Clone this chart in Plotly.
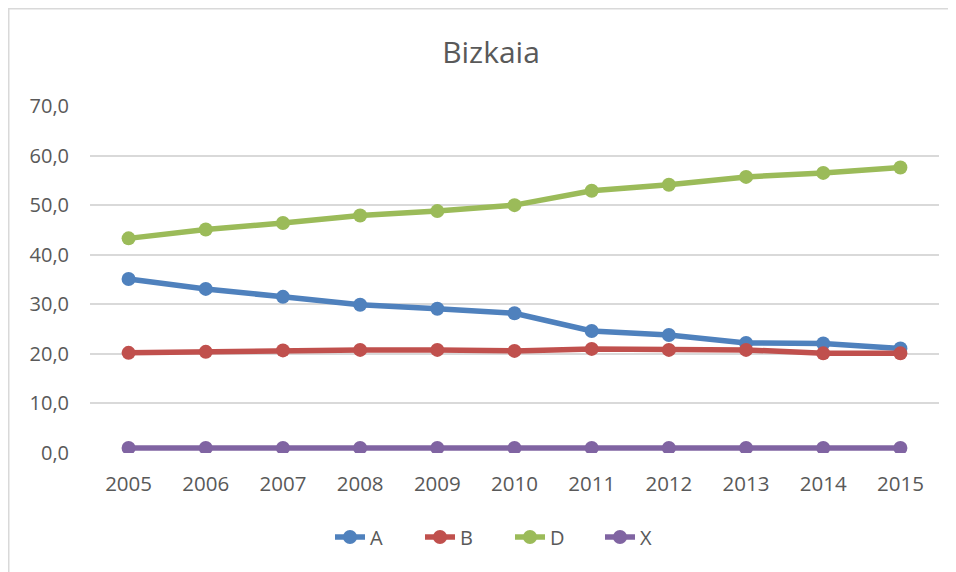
import plotly.graph_objects as go

years = ["2005", "2006", "2007", "2008", "2009", "2010", "2011", "2012", "2013", "2014", "2015"]
series_a = [35.1, 33.1, 31.5, 29.9, 29.1, 28.2, 24.6, 23.8, 22.2, 22.1, 21.1]
series_b = [20.2, 20.4, 20.7, 20.8, 20.8, 20.6, 21.0, 20.8, 20.8, 20.1, 20.1]
series_d = [43.3, 45.1, 46.4, 47.9, 48.8, 50.0, 52.9, 54.1, 55.7, 56.5, 57.6]
series_x = [1.0, 1.0, 1.0, 1.0, 1.0, 1.0, 1.0, 1.0, 1.0, 1.0, 1.0]
names = ["A", "B", "D", "X"]
colors = ["#4F81BD", "#C0504D", "#9BBB59", "#8064A2"]
y_ticks = [0, 10, 20, 30, 40, 50, 60, 70]

FONT = "Open Sans"
TXT = "#595959"

fig = go.Figure()
for name, vals, col in zip(names, [series_a, series_b, series_d, series_x], colors):
    fig.add_trace(go.Scatter(
        x=years, y=vals, name=name, mode="lines+markers",
        line=dict(color=col, width=5.5),
        marker=dict(color=col, size=14),
    ))

OFF = 8
W, H = 956 - OFF, 572 - OFF
L, T = 90 - OFF, 106 - OFF
R = W - (939 - OFF)
B = H - (453 - OFF)
pw, ph = W - L - R, H - T - B

fig.add_shape(type="rect", xref="paper", yref="paper",
              x0=(0.75 - L) / pw, x1=(W + 5 - L) / pw,
              y0=(H - B - 0.75) / ph, y1=(H - B - H - 5) / ph,
              line=dict(color="#D9D9D9", width=1.5), fillcolor="rgba(0,0,0,0)", layer="below")

fig.update_layout(
    width=W, height=H,
    margin=dict(l=L, r=R, t=T, b=B),
    paper_bgcolor="white", plot_bgcolor="white",
    separators=",.",
    title=dict(text="Bizkaia", x=(491 - OFF) / W, xanchor="center", y=1 - (52 - OFF) / H, yanchor="middle",
               font=dict(family=FONT, size=30, color=TXT)),
    font=dict(family=FONT, color=TXT),
    xaxis=dict(type="category", showgrid=False, zeroline=False, showline=False,
               tickfont=dict(size=20.5, color=TXT), ticks="outside", ticklen=12,
               tickcolor="rgba(0,0,0,0)", range=[-0.5, len(years) - 0.5]),
    yaxis=dict(range=[0, 70], tickvals=y_ticks, tickformat=".1f",
               showgrid=True, gridcolor="#D9D9D9", gridwidth=1.5,
               zeroline=False, showline=False,
               tickfont=dict(size=20, color=TXT), ticks="outside", ticklen=16,
               tickcolor="rgba(0,0,0,0)"),
    legend=dict(orientation="h", x=(510 - 90) / pw, xanchor="center", y=-(537 - 453) / ph,
                yanchor="middle", font=dict(size=20, color=TXT),
                entrywidth=45, entrywidthmode="pixels",
                bgcolor="rgba(0,0,0,0)"),
    showlegend=True,
)

fig.write_html("out.html")
